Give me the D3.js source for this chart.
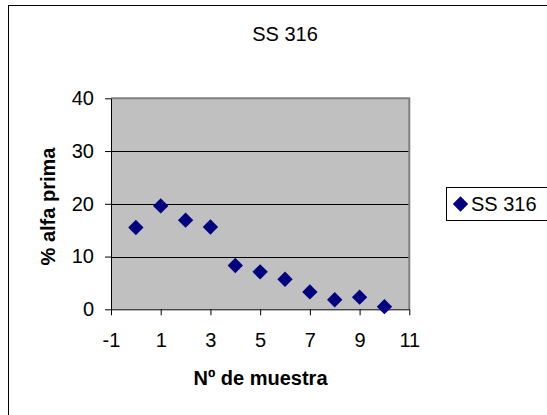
<!DOCTYPE html>
<html>
<head>
<meta charset="utf-8">
<script src="https://cdn.jsdelivr.net/npm/d3@7/dist/d3.min.js"></script>
<style>
  html, body { margin: 0; padding: 0; background: #fff; }
  svg { display: block; }
  text { font-family: "Liberation Sans", Arial, sans-serif; fill: #000; }
</style>
</head>
<body>
<script>
// Sample number vs. percentage of alpha-prime phase
const samples = [0, 1, 2, 3, 4, 5, 6, 7, 8, 9, 10];
const alphaPrime = [15.5, 19.6, 16.9, 15.6, 8.3, 7.1, 5.7, 3.3, 1.8, 2.3, 0.5];
const xTicks = [-1, 1, 3, 5, 7, 9, 11];
const yTicks = [0, 10, 20, 30, 40];
const seriesName = "SS 316";

const W = 547, H = 415;
const plot = { left: 111, right: 409.3, top: 98.3, bottom: 309.3 };

const svg = d3.select("body").append("svg")
  .attr("width", W).attr("height", H);

// outer chart frame
svg.append("rect")
  .attr("x", 8.5).attr("y", 5.5)
  .attr("width", W + 10).attr("height", H + 10)
  .attr("fill", "#fff").attr("stroke", "#000").attr("stroke-width", 1);

const x = d3.scaleLinear().domain([-1, 11]).range([plot.left, plot.right]);
const y = d3.scaleLinear().domain([0, 40]).range([plot.bottom, plot.top]);

// plot area background
svg.append("rect")
  .attr("x", plot.left).attr("y", plot.top)
  .attr("width", plot.right - plot.left).attr("height", plot.bottom - plot.top)
  .attr("fill", "#c0c0c0");

// horizontal gridlines
svg.append("g")
  .selectAll("line")
  .data(yTicks.filter(v => v > 0 && v < 40))
  .join("line")
  .attr("x1", plot.left).attr("x2", plot.right)
  .attr("y1", d => Math.round(y(d)) + 0.5).attr("y2", d => Math.round(y(d)) + 0.5)
  .attr("stroke", "#000").attr("stroke-width", 1);

// grey top and right border of the plot area
svg.append("path")
  .attr("d", `M${plot.left},${plot.top} H${plot.right} V${plot.bottom}`)
  .attr("fill", "none").attr("stroke", "#808080").attr("stroke-width", 2);

// y axis
const yAxis = svg.append("g")
  .attr("transform", `translate(${plot.left},0)`)
  .call(d3.axisLeft(y).tickValues(yTicks).tickSize(6).tickPadding(11).tickSizeOuter(0));
yAxis.select(".domain").attr("stroke", "#000");
yAxis.selectAll(".tick line").attr("stroke", "#000");
yAxis.selectAll(".tick text")
  .style("font-family", '"Liberation Sans", Arial, sans-serif')
  .style("font-size", "20px").attr("fill", "#000");

// x axis (plain hyphen for negative labels)
const xAxis = svg.append("g")
  .attr("transform", `translate(0,${plot.bottom})`)
  .call(d3.axisBottom(x).tickValues(xTicks).tickSize(6).tickPadding(18).tickSizeOuter(0)
    .tickFormat(d => String(d)));
xAxis.select(".domain").attr("stroke", "#000");
xAxis.selectAll(".tick line").attr("stroke", "#000");
xAxis.selectAll(".tick text")
  .style("font-family", '"Liberation Sans", Arial, sans-serif')
  .style("font-size", "20px").attr("fill", "#000");

// diamond markers
const diamond = d3.symbol().type(d3.symbolSquare).size(118);
svg.append("g")
  .selectAll("path")
  .data(samples.map((s, i) => ({ s, v: alphaPrime[i] })))
  .join("path")
  .attr("d", diamond)
  .attr("transform", d => `translate(${x(d.s)},${y(d.v)}) rotate(45)`)
  .attr("fill", "#000080");

// titles
svg.append("text")
  .attr("x", 285).attr("y", 40.5)
  .attr("text-anchor", "middle")
  .style("font-size", "20px")
  .text(seriesName);

svg.append("text")
  .attr("x", 260.5).attr("y", 385)
  .attr("text-anchor", "middle")
  .style("font-size", "20px").style("font-weight", "bold")
  .text("Nº de muestra");

svg.append("text")
  .attr("transform", "translate(55,206.5) rotate(-90)")
  .attr("text-anchor", "middle")
  .style("font-size", "20px").style("font-weight", "bold")
  .text("% alfa prima");

// legend
const legend = svg.append("g");
legend.append("rect")
  .attr("x", 446.5).attr("y", 187.5)
  .attr("width", 120).attr("height", 33)
  .attr("fill", "#fff").attr("stroke", "#000").attr("stroke-width", 1);
legend.append("path")
  .attr("d", diamond)
  .attr("transform", "translate(460.5,204) rotate(45)")
  .attr("fill", "#000080");
legend.append("text")
  .attr("x", 471).attr("y", 211)
  .style("font-size", "20px")
  .text(seriesName);
</script>
</body>
</html>
